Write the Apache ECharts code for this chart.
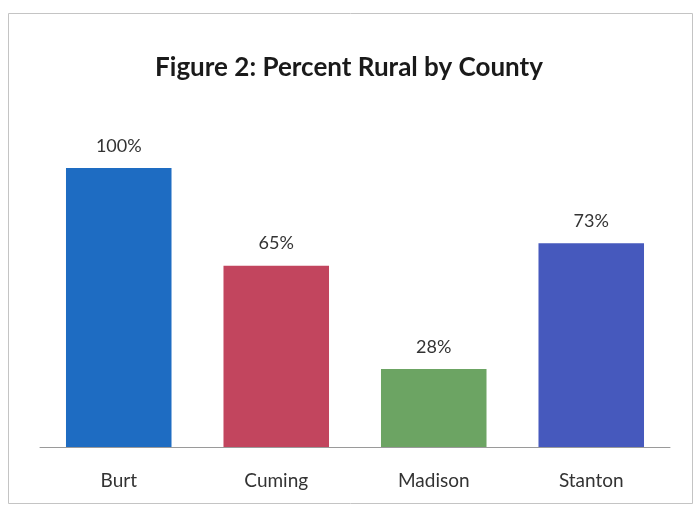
<!DOCTYPE html>
<html>
<head>
<meta charset="utf-8">
<script src="https://cdn.jsdelivr.net/npm/echarts@6/dist/echarts.min.js"></script>
<style>
  html, body { margin: 0; padding: 0; background: #fff; }
  #chart { width: 698px; height: 506px; }
</style>
</head>
<body>
<div id="chart"></div>
<script>
// County names along the x axis
const counties = ['Burt', 'Cuming', 'Madison', 'Stanton'];
// Share of each county's population living in rural areas (%)
const percentRural = [100, 65, 28, 73];
// One fill per bar
const barColors = ['#1e6cc2', '#c2455e', '#6ca463', '#4659bd'];

const chart = echarts.init(document.getElementById('chart'), null, { renderer: 'canvas' });

chart.setOption({
  backgroundColor: '#fff',
  animation: false,
  title: {
    text: 'Figure 2: Percent Rural by County',
    left: 'center',
    top: 50,
    textStyle: { fontFamily: 'Lato', fontSize: 26, fontWeight: 'bold', color: '#1a1a1a' }
  },
  graphic: [{
    type: 'rect',
    shape: { x: 8.5, y: 13.5, width: 684, height: 490 },
    style: { fill: 'none', stroke: '#c4c4c4', lineWidth: 1 },
    silent: true
  }],
  grid: { left: 40, right: 28, top: 168, bottom: 59 },
  xAxis: {
    type: 'category',
    data: counties,
    axisLine: { lineStyle: { color: '#9a9a9a', width: 1 } },
    axisTick: { show: false },
    axisLabel: { fontFamily: 'Lato', fontSize: 19, color: '#333', margin: 24 }
  },
  yAxis: {
    type: 'value',
    min: 0,
    max: 100,
    show: false,
    splitLine: { show: false }
  },
  series: [{
    type: 'bar',
    data: percentRural.map((v, i) => ({ value: v, itemStyle: { color: barColors[i] } })),
    barWidth: '67%',
    label: {
      show: true,
      position: 'top',
      distance: 13,
      formatter: p => p.value + '%',
      fontFamily: 'Lato',
      fontSize: 18,
      color: '#333'
    }
  }]
});
</script>
</body>
</html>
